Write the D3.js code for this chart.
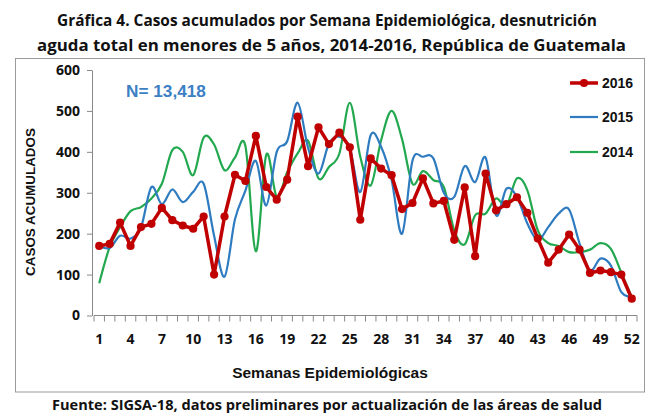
<!DOCTYPE html>
<html><head><meta charset="utf-8">
<script src="https://cdn.jsdelivr.net/npm/d3@7"></script>
<style>body{margin:0;background:#fff}svg{display:block}</style>
</head><body>
<svg id="c" width="647" height="415"></svg>
<script>
const titleLines = ["Gráfica 4. Casos acumulados por Semana Epidemiológica, desnutrición",
                    "aguda total en menores de 5 años, 2014-2016, República de Guatemala"];
const footer = "Fuente: SIGSA-18, datos preliminares por actualización de las áreas de salud";
const xTitle = "Semanas Epidemiológicas";
const yTitle = "CASOS ACUMULADOS";
const nLabel = "N= 13,418";
const weeks = [1,2,3,4,5,6,7,8,9,10,11,12,13,14,15,16,17,18,19,20,21,22,23,24,25,26,
               27,28,29,30,31,32,33,34,35,36,37,38,39,40,41,42,43,44,45,46,47,48,49,50,51,52];
const xTickLabels = [1,4,7,10,13,16,19,22,25,28,31,34,37,40,43,46,49,52];
const yTickValues = [0,100,200,300,400,500,600];
const y2016 = [170,175,227,170,216,224,263,233,220,212,242,100,242,344,329,439,314,283,332,486,365,460,419,447,411,234,
               384,359,343,260,275,335,274,280,185,313,145,347,257,272,289,251,188,129,161,198,161,104,110,106,100,41];
const y2015 = [171,165,195,188,215,314,272,308,277,302,322,195,95,235,305,378,269,400,426,520,410,347,420,437,408,302,
               441,412,331,200,378,388,384,300,290,365,326,386,245,310,290,225,184,216,249,259,176,110,139,122,57,46];
const y2014 = [79,167,216,255,265,286,322,404,400,343,435,418,355,386,414,157,393,290,350,396,427,335,363,396,520,388,
               318,429,500,431,322,353,331,314,208,174,245,249,286,269,335,306,208,177,170,155,155,161,177,163,105,45];
const seriesNames = ["2016","2015","2014"];
const seriesColors = ["#C00000","#2E7BC0","#22A84E"];

const svg = d3.select("#c");
const x = d3.scaleBand().domain(weeks).range([94, 637]);
const y = d3.scaleLinear().domain([0, 600]).range([315.5, 70]);
const cx = w => x(w) + x.bandwidth() / 2;

function fit(sel, w) {
  const l = sel.node().getComputedTextLength();
  const fs = parseFloat(sel.attr("font-size"));
  sel.attr("font-size", fs * w / l);
  return fs * w / l;
}

// frame
svg.append("rect").attr("x", 15.5).attr("y", 58.5).attr("width", 629).attr("height", 333.5)
  .attr("fill", "none").attr("stroke", "#9a9a9a").attr("stroke-width", 1);

// title (condensed to match narrow bold face)
const tf = "'Open Sans','Noto Sans',sans-serif";
svg.append("text").attr("x", 327).attr("y", 26).attr("text-anchor", "middle")
  .attr("font-family", tf).attr("font-weight", "bold").attr("font-size", 16.5).attr("fill", "#111")
  .attr("textLength", 540).attr("lengthAdjust", "spacingAndGlyphs").text(titleLines[0]);
svg.append("text").attr("x", 331.5).attr("y", 51).attr("text-anchor", "middle")
  .attr("font-family", tf).attr("font-weight", "bold").attr("font-size", 16.5).attr("fill", "#111")
  .attr("textLength", 589).attr("lengthAdjust", "spacingAndGlyphs").text(titleLines[1]);

// footer
svg.append("text").attr("x", 327).attr("y", 410).attr("text-anchor", "middle")
  .attr("font-family", tf).attr("font-weight", "bold").attr("font-size", 14.5).attr("fill", "#111")
  .attr("textLength", 550).attr("lengthAdjust", "spacingAndGlyphs").text(footer);

// y axis
const ya = svg.append("g").attr("transform", "translate(92,0)")
  .call(d3.axisLeft(y).tickValues(yTickValues).tickSize(5).tickSizeOuter(0).tickPadding(7));
ya.select(".domain").attr("stroke", "#888");
ya.selectAll(".tick line").attr("stroke", "#888");
ya.selectAll("text").attr("font-family", tf).attr("font-weight", "bold").attr("font-size", 14).attr("fill", "#111");

// x axis line + ticks at band edges
const xa = svg.append("g").attr("transform", "translate(0,315.5)");
xa.append("line").attr("x1", x.range()[0]).attr("x2", x.range()[1]).attr("stroke", "#888");
const edges = weeks.map(w => x(w)).concat([x.range()[1]]);
xa.selectAll("line.tk").data(edges).join("line").attr("class", "tk")
  .attr("x1", d => d).attr("x2", d => d).attr("y1", 0).attr("y2", 6).attr("stroke", "#888");
const xl = svg.append("g").attr("transform", "translate(0,315.5)")
  .call(d3.axisBottom(x).tickValues(xTickLabels).tickSize(0).tickPadding(19));
xl.select(".domain").remove();
xl.selectAll("text").attr("font-family", tf).attr("font-weight", "bold").attr("font-size", 14).attr("fill", "#111");

// axis titles
const xt = svg.append("text").attr("x", 330).attr("y", 378).attr("text-anchor", "middle")
  .attr("font-family", "'Liberation Sans',Arial,sans-serif").attr("font-weight", "bold").attr("font-size", 13)
  .attr("fill", "#111").text(xTitle);
fit(xt, 196);
const yt = svg.append("text").attr("transform", "translate(35,202) rotate(-90)").attr("text-anchor", "middle")
  .attr("font-family", "'Liberation Sans',Arial,sans-serif").attr("font-weight", "bold").attr("font-size", 12)
  .attr("fill", "#111").text(yTitle);
fit(yt, 148);

// N label
const nt = svg.append("text").attr("x", 126).attr("y", 97).attr("font-family", "'Liberation Sans',Arial,sans-serif")
  .attr("font-weight", "bold").attr("font-size", 16).attr("fill", "#3C7FC4").text(nLabel);
fit(nt, 80);

// lines
const smooth = d3.line().x((d, i) => cx(weeks[i])).y(d => y(d)).curve(d3.curveCardinal.tension(0));
const straight = d3.line().x((d, i) => cx(weeks[i])).y(d => y(d));
svg.append("path").datum(y2014).attr("d", smooth).attr("fill", "none").attr("stroke", seriesColors[2]).attr("stroke-width", 2.2);
svg.append("path").datum(y2015).attr("d", smooth).attr("fill", "none").attr("stroke", seriesColors[1]).attr("stroke-width", 2.2);
svg.append("path").datum(y2016).attr("d", straight).attr("fill", "none").attr("stroke", seriesColors[0])
  .attr("stroke-width", 3.5).attr("stroke-linejoin", "round");
svg.selectAll("circle.m").data(y2016).join("circle").attr("class", "m")
  .attr("cx", (d, i) => cx(weeks[i])).attr("cy", d => y(d)).attr("r", 4.1).attr("fill", seriesColors[0]);

// legend
const legY = [83, 117, 152];
seriesNames.forEach((s, i) => {
  const g = svg.append("g");
  g.append("line").attr("x1", 570).attr("x2", 598).attr("y1", legY[i]).attr("y2", legY[i])
    .attr("stroke", seriesColors[i]).attr("stroke-width", i === 0 ? 3.5 : 2.2);
  if (i === 0) g.append("circle").attr("cx", 584).attr("cy", legY[i]).attr("r", 4.1).attr("fill", seriesColors[0]);
  g.append("text").attr("x", 602).attr("y", legY[i]).attr("dy", "0.36em")
    .attr("font-family", "'Liberation Sans',Arial,sans-serif").attr("font-weight", "bold").attr("font-size", 14)
    .attr("fill", "#111").text(s);
});
</script>
</body></html>
